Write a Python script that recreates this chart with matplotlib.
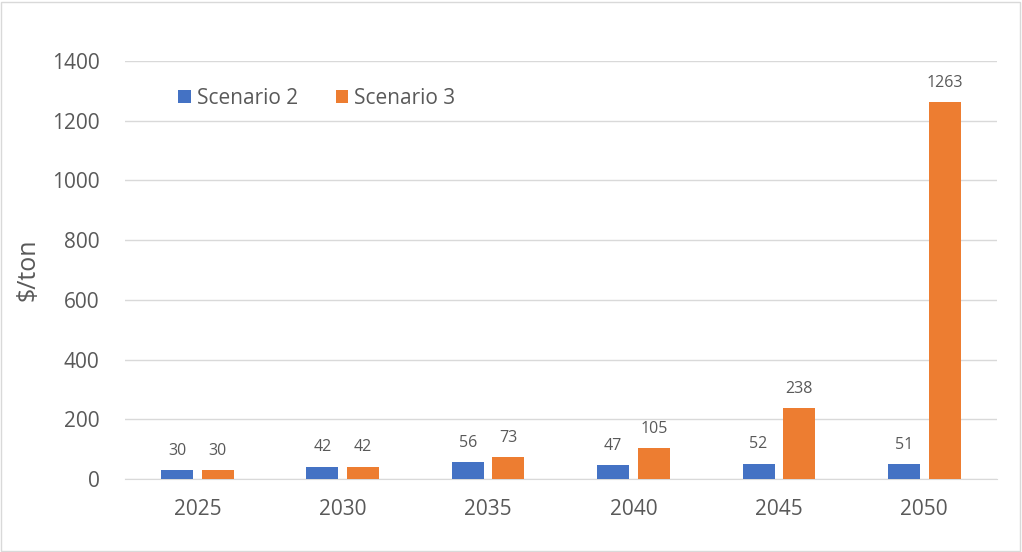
import matplotlib.pyplot as plt
import matplotlib.patches as mpatches
import numpy as np

# Data
years = ['2025', '2030', '2035', '2040', '2045', '2050']
scenario2 = [30, 42, 56, 47, 52, 51]
scenario3 = [30, 42, 73, 105, 238, 1263]

blue = '#4472C4'
orange = '#ED7D31'
txt = '#595959'

plt.rcParams['font.family'] = ['Open Sans', 'DejaVu Sans']

fig = plt.figure(figsize=(10.22, 5.52), dpi=100)
ax = fig.add_axes([0.122, 0.132, 0.8535, 0.7575])

x = np.arange(len(years))
w = 0.22
gap = 0.03
b2 = ax.bar(x - w / 2 - gap, scenario2, w, color=blue, label='Scenario 2', zorder=3)
b3 = ax.bar(x + w / 2 + gap, scenario3, w, color=orange, label='Scenario 3', zorder=3)

ax.bar_label(b2, padding=8, fontsize=11.5, color=txt)
ax.bar_label(b3, padding=8, fontsize=11.5, color=txt)

ax.set_xlim(-0.5, len(years) - 0.5)
ax.set_ylim(0, 1400)
ax.set_yticks(range(0, 1401, 200))
ax.set_xticks(x)
ax.set_xticklabels(years)
ax.tick_params(axis='both', length=0, labelsize=15, colors=txt)
ax.tick_params(axis='x', pad=14)
ax.tick_params(axis='y', pad=18)
ax.grid(axis='y', color='#D9D9D9', linewidth=1, zorder=0)
for s in ['top', 'right', 'left']:
    ax.spines[s].set_visible(False)
ax.spines['bottom'].set_color('#D9D9D9')

ax.set_ylabel('$/ton', fontsize=18, color=txt, labelpad=8)

ax.legend(loc='upper left', bbox_to_anchor=(0.04, 0.98), ncol=2, frameon=False,
          fontsize=15, labelcolor=txt, handlelength=0.6, handleheight=0.6,
          handletextpad=0.3, columnspacing=1.8)

fig.patches.append(mpatches.Rectangle((0.001, 0.002), 0.997, 0.995, transform=fig.transFigure,
                                      fill=False, edgecolor='#D9D9D9', linewidth=1))

fig.savefig('out.png', dpi=100)
